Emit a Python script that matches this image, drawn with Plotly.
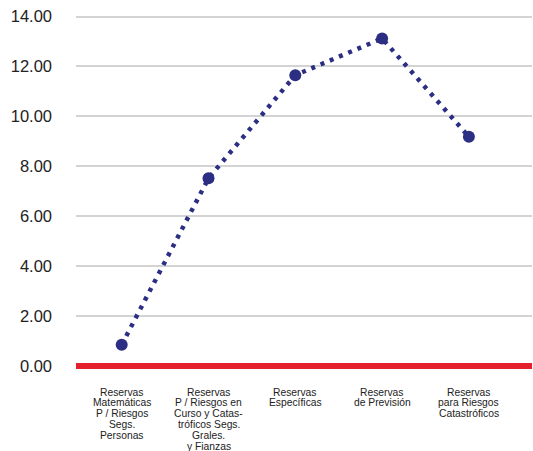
import plotly.graph_objects as go

categories = [
    "Reservas<br>Matemáticas<br>P / Riesgos<br>Segs.<br>Personas",
    "Reservas<br>P / Riesgos en<br>Curso y Catas-<br>tróficos Segs.<br>Grales.<br>y Fianzas",
    "Reservas<br>Específicas",
    "Reservas<br>de Previsión",
    "Reservas<br>para Riesgos<br>Catastróficos",
]
values = [0.85, 7.52, 11.65, 13.12, 9.18]
y_ticks = [0, 2, 4, 6, 8, 10, 12, 14]

xpos = list(range(len(categories)))

fig = go.Figure()
fig.add_trace(go.Scatter(
    x=xpos, y=values, mode="lines+markers",
    line=dict(color="#2b2e83", width=4.5, dash="4px,6px"),
    marker=dict(color="#2b2e83", size=12),
    showlegend=False,
))
# red baseline at zero
fig.add_trace(go.Scatter(
    x=[-0.53, 4.73], y=[0, 0], mode="lines",
    line=dict(color="#e3202b", width=6), showlegend=False, hoverinfo="skip",
))

# category labels as stacked text lines (tight line spacing like the reference)
annotations = []
for xi, lab in zip(xpos, categories):
    for li, line in enumerate(lab.split("<br>")):
        annotations.append(dict(
            x=xi, xref="x", y=0, yref="paper", yanchor="top", xanchor="center",
            yshift=-(13.5 + li * 10.8), text=line, showarrow=False,
            font=dict(size=10.3, color="#222"),
        ))

fig.update_layout(
    width=533, height=451,
    margin=dict(l=76, r=1, t=13.5, b=80),
    paper_bgcolor="white", plot_bgcolor="white",
    font=dict(family="Liberation Sans, Arial, sans-serif", color="#222"),
    annotations=annotations,
)
fig.update_xaxes(
    range=[-0.5265, 4.727], tickvals=xpos, showticklabels=False,
    showgrid=False, zeroline=False, showline=False, automargin=False,
)
fig.update_yaxes(
    range=[-0.2, 14.1], tickvals=y_ticks, tickformat=".2f",
    showgrid=True, gridcolor="#d3d3d3", gridwidth=2,
    zeroline=False, showline=False, automargin=False,
    tickfont=dict(size=16.5, color="#222"), ticklabelstandoff=23,
)
fig.write_html("out.html", config={"displayModeBar": False},
               post_script="document.body.style.margin='0';document.body.style.overflow='hidden';")
